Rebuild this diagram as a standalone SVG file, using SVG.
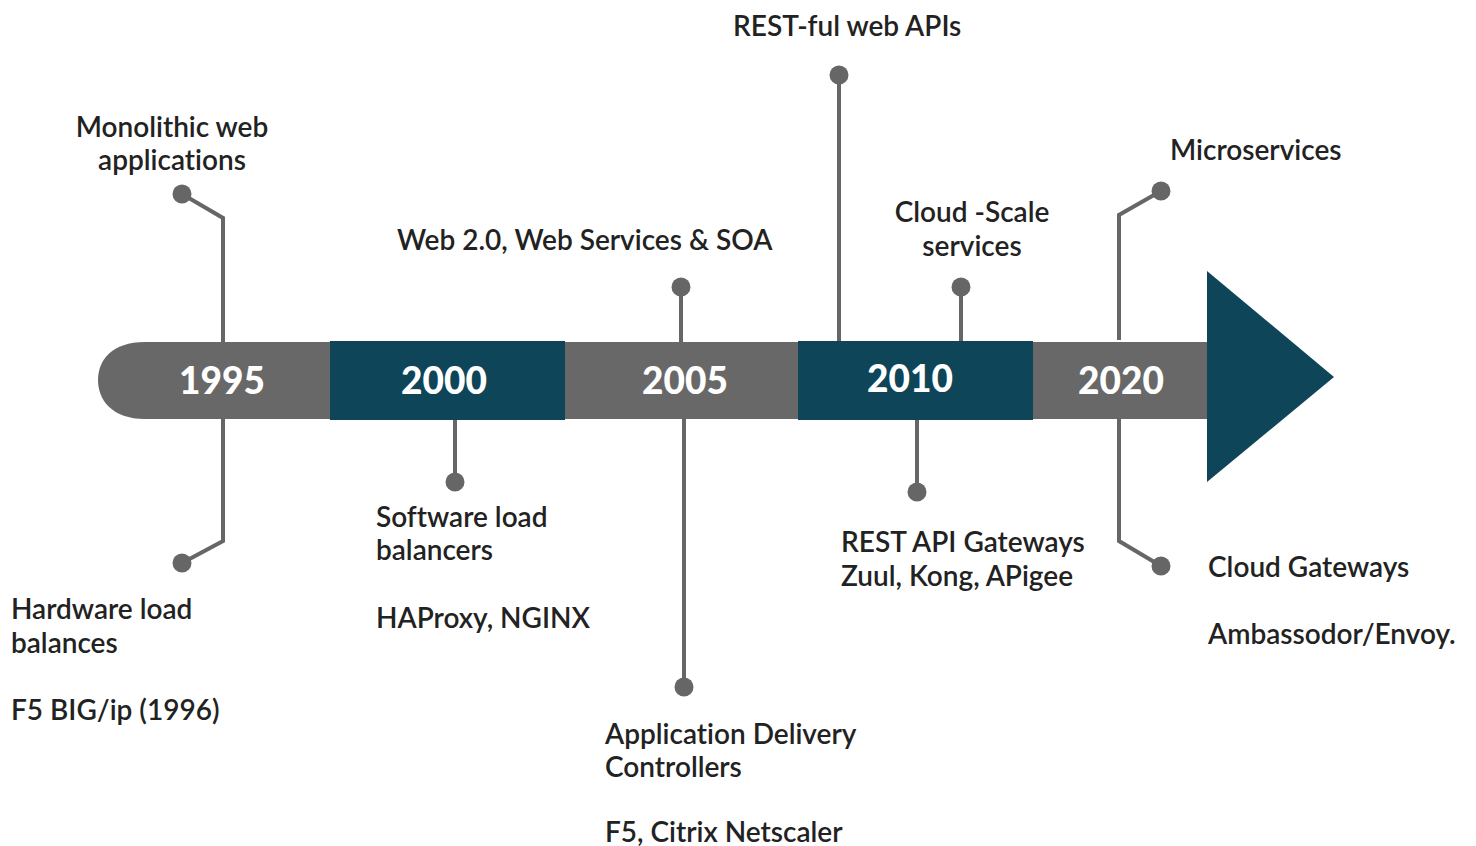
<svg xmlns="http://www.w3.org/2000/svg" width="1476" height="846" viewBox="0 0 1476 846">
<style>
.t{font-family:Lato,"Open Sans",sans-serif;font-size:28px;font-weight:600;fill:#222;font-variant-ligatures:none;}
.y{font-family:Lato,"Open Sans",sans-serif;font-size:37px;font-weight:900;fill:#fff;text-anchor:middle;}
.c{fill:none;stroke:#666;stroke-width:4;}
.d{fill:#666;}
.g{fill:#686868;}
.b{fill:#0e4559;}
</style>
<rect width="1476" height="846" fill="#fff"/>
<g id="connectors">
<polyline class="c" points="182,194 223,218 223,342"/>
<polyline class="c" points="223,419 223,541 182,563"/>
<polyline class="c" points="455,419 455,482"/>
<polyline class="c" points="681,287 681,342"/>
<polyline class="c" points="684,419 684,687"/>
<polyline class="c" points="839,75 839,341"/>
<polyline class="c" points="961,287 961,342"/>
<polyline class="c" points="917,419 917,492"/>
<polyline class="c" points="1161,191 1119,215 1119,340"/>
<polyline class="c" points="1119,419 1119,541 1161,566"/>
<circle class="d" cx="182" cy="194" r="9.5"/>
<circle class="d" cx="182" cy="563" r="9.5"/>
<circle class="d" cx="455" cy="482" r="9.5"/>
<circle class="d" cx="681" cy="287" r="9.5"/>
<circle class="d" cx="684" cy="687" r="9.5"/>
<circle class="d" cx="839" cy="75" r="9.5"/>
<circle class="d" cx="961" cy="287" r="9.5"/>
<circle class="d" cx="917" cy="492" r="9.5"/>
<circle class="d" cx="1161" cy="191" r="9.5"/>
<circle class="d" cx="1161" cy="566" r="9.5"/>
</g>
<g id="bar">
<path class="g" d="M145,342 H1210 V419 H145 C112,419 98,400 98,380 C98,360 112,342 145,342 Z"/>
<polygon class="b" points="1207,271 1334,377 1207,482"/>
</g>
<g id="n1995"><text class="y" x="222" y="394">1995</text></g>
<g id="n2000"><rect class="b" x="330" y="341" width="235" height="79"/><text class="y" x="444" y="394">2000</text></g>
<g id="n2005"><text class="y" x="685" y="394">2005</text></g>
<g id="n2010"><rect class="b" x="798" y="341" width="235" height="79"/><text class="y" x="910" y="392">2010</text></g>
<g id="n2020"><text class="y" x="1121" y="394">2020</text></g>
<g id="monolithic"><text class="t" x="172" y="137" text-anchor="middle">Monolithic web</text><text class="t" x="172" y="170" text-anchor="middle">applications</text></g>
<g id="web20"><text class="t" x="397" y="250">Web 2.0, Web Services &amp; SOA</text></g>
<g id="restful"><text class="t" x="733" y="36">REST-ful web APIs</text></g>
<g id="cloudscale"><text class="t" x="972" y="222" text-anchor="middle">Cloud -Scale</text><text class="t" x="972" y="256" text-anchor="middle">services</text></g>
<g id="microservices"><text class="t" x="1170" y="160">Microservices</text></g>
<g id="hardware"><text class="t" x="11" y="619">Hardware load</text><text class="t" x="11" y="653">balances</text><text class="t" x="11" y="720">F5 BIG/ip (1996)</text></g>
<g id="software"><text class="t" x="376" y="527">Software load</text><text class="t" x="376" y="560">balancers</text><text class="t" x="376" y="628">HAProxy, NGINX</text></g>
<g id="adc"><text class="t" x="605" y="744">Application Delivery</text><text class="t" x="605" y="777">Controllers</text><text class="t" x="605" y="842">F5, Citrix Netscaler</text></g>
<g id="restgw"><text class="t" x="841" y="552">REST API Gateways</text><text class="t" x="841" y="586">Zuul, Kong, APigee</text></g>
<g id="cloudgw"><text class="t" x="1208" y="577">Cloud Gateways</text><text class="t" x="1208" y="644">Ambassodor/Envoy.</text></g>
</svg>
